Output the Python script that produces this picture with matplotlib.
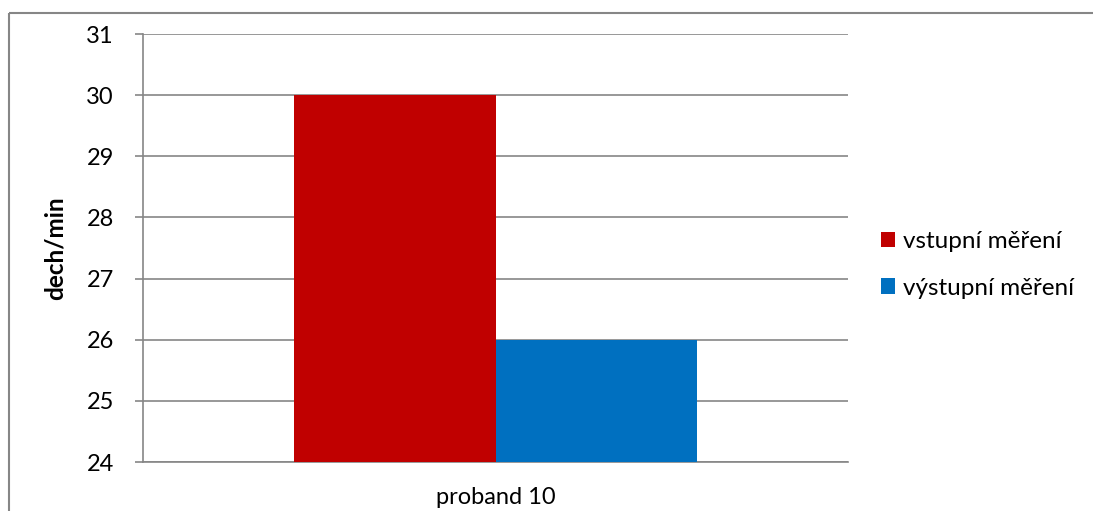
import matplotlib.pyplot as plt
from matplotlib.lines import Line2D

# Data
categories = ['proband 10']
series_names = ['vstupní měření', 'výstupní měření']
series_values = [[30], [26]]
colors = ['#C00000', '#0070C0']
y_ticks = [24, 25, 26, 27, 28, 29, 30, 31]

plt.rcParams['font.family'] = ['Lato', 'DejaVu Sans']

fig = plt.figure(figsize=(10.93, 5.11), dpi=100)
ax = fig.add_axes([143 / 1093, 1 - 462 / 511, 705 / 1093, 428 / 511])

# outer chart border, only top and left edges are in view in the reference
bx, by = 8.5 / 1093, 1 - 13.5 / 511
fig.add_artist(Line2D([bx, 1.02], [by, by], transform=fig.transFigure, color='#868686',
                      linewidth=1.5, solid_capstyle='butt'))
fig.add_artist(Line2D([bx, bx], [-0.02, by], transform=fig.transFigure, color='#868686',
                      linewidth=1.5, solid_capstyle='butt'))

width = 0.2865
offsets = [-width / 2, width / 2]
for name, vals, c, off in zip(series_names, series_values, colors, offsets):
    ax.bar([i + off for i in range(len(categories))], [v - y_ticks[0] for v in vals],
           bottom=y_ticks[0], width=width, color=c, label=name, zorder=3)

ax.set_xlim(-0.5, len(categories) - 0.5)
ax.set_ylim(y_ticks[0], y_ticks[-1])
ax.set_yticks(y_ticks)
ax.set_xticks(range(len(categories)))
ax.set_xticklabels(categories)
ax.tick_params(axis='x', length=0, pad=18, labelsize=17)
ax.tick_params(axis='y', length=6, width=1.2, color='#868686', labelsize=17, pad=15)

ax.grid(axis='y', color='#868686', linewidth=1.2, zorder=0)
for side in ['top', 'right']:
    ax.spines[side].set_visible(False)
for side in ['left', 'bottom']:
    ax.spines[side].set_color('#868686')
    ax.spines[side].set_linewidth(1.2)

ax.set_ylabel('dech/min', fontsize=17.5, fontweight='bold', labelpad=14)

fig.legend(loc='center left', bbox_to_anchor=(859 / 1093, 1 - 265 / 511), frameon=False,
           fontsize=17.5, handlelength=0.6, handleheight=0.6, handletextpad=0.3, labelspacing=1.05)

plt.savefig('out.png', dpi=100)
